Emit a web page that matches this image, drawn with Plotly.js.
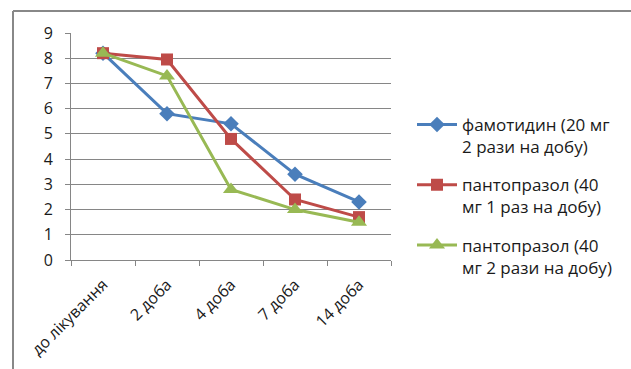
<!DOCTYPE html>
<html>
<head>
<meta charset="utf-8">
<script src="https://cdn.plot.ly/plotly-3.0.1.min.js"></script>
<style>
  html, body { margin: 0; padding: 0; background: #fff; }
  #chart { width: 631px; height: 369px; }
</style>
</head>
<body>
<div id="chart"></div>
<script>
// Stages of treatment (x categories)
const stages = ['до лікування', '2 доба', '4 доба', '7 доба', '14 доба'];

// Series names (legend, wrapped over two lines)
const nameFamotidine = 'фамотидин (20 мг<br>2 рази на добу)';
const namePanto1 = 'пантопразол (40<br>мг 1 раз на добу)';
const namePanto2 = 'пантопразол (40<br>мг 2 рази на добу)';

// Series values
const famotidine = [8.2, 5.8, 5.4, 3.4, 2.3];
const panto1 = [8.2, 7.95, 4.8, 2.4, 1.7];
const panto2 = [8.2, 7.3, 2.8, 2.0, 1.5];

const W = 631, H = 369;
const M = { l: 71, r: 240, t: 33, b: 109 };
const pw = W - M.l - M.r, ph = H - M.t - M.b;
// pixel -> paper helpers for the frame lines
const px = x => (x - M.l) / pw;
const py = y => (H - M.b - y) / ph;

const font = '"Open Sans", sans-serif';
const textColor = '#1a1a1a';

function series(y, name, color, symbol, size, group) {
  return {
    type: 'scatter', mode: 'lines+markers',
    x: stages, y: y, name: name, legendgroup: group,
    line: { color: color, width: 3 },
    marker: { color: color, symbol: symbol, size: size }
  };
}

const data = [
  series(famotidine, nameFamotidine, '#4A7EBB', 'diamond', 12, 'a'),
  series(panto1, namePanto1, '#BE4B48', 'square', 12, 'b'),
  series(panto2, namePanto2, '#98B954', 'triangle-up', 14, 'c')
];

const layout = {
  width: W, height: H,
  margin: M,
  paper_bgcolor: '#fff', plot_bgcolor: '#fff',
  font: { family: font, size: 16, color: textColor },
  showlegend: true,
  legend: {
    x: px(412), y: py(107), xanchor: 'left', yanchor: 'top',
    font: { family: font, size: 17, color: textColor },
    itemwidth: 40,
    tracegroupgap: 13, valign: 'top', bgcolor: 'rgba(0,0,0,0)'
  },
  xaxis: {
    type: 'category', range: [-0.5, 4.5],
    showline: true, linecolor: '#868686', linewidth: 1,
    showgrid: false, zeroline: false,
    ticks: 'outside', tickson: 'boundaries', ticklen: 5, tickcolor: '#868686',
    ticklabelstandoff: 8,
    tickangle: -45, tickfont: { family: font, size: 16, color: textColor }
  },
  yaxis: {
    range: [0, 9], dtick: 1, tick0: 0,
    showline: true, linecolor: '#868686', linewidth: 1,
    showgrid: true, gridcolor: '#868686', gridwidth: 1, zeroline: false,
    ticks: 'outside', ticklen: 5, tickcolor: '#868686',
    ticklabelstandoff: 9,
    tickfont: { family: font, size: 16, color: textColor }
  },
  shapes: [
    { type: 'line', xref: 'paper', yref: 'paper', x0: px(13), x1: px(631), y0: py(11), y1: py(11),
      line: { color: '#888', width: 2 } },
    { type: 'line', xref: 'paper', yref: 'paper', x0: px(13), x1: px(13), y0: py(11), y1: py(369),
      line: { color: '#888', width: 2 } }
  ]
};

Plotly.newPlot('chart', data, layout, { staticPlot: true, displayModeBar: false });
</script>
</body>
</html>
